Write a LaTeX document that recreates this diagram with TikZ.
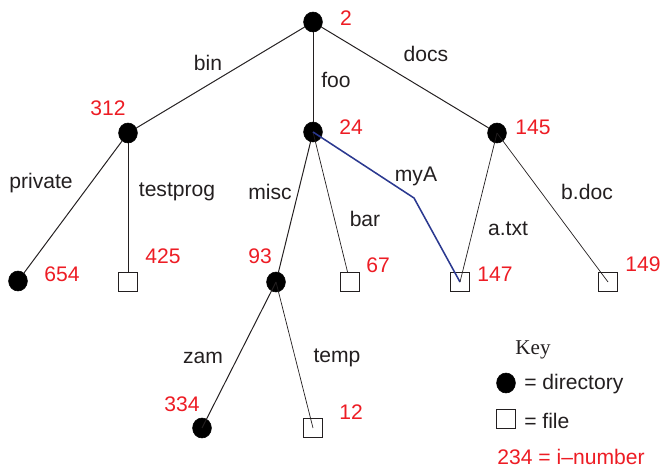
\documentclass[tikz,border=0pt]{standalone}
\usepackage{fontspec}
\setmainfont{Liberation Serif}
\setsansfont{Liberation Sans}
\usepackage{tikz}
\usetikzlibrary{shapes.geometric, positioning}

\definecolor{inumred}{RGB}{237,28,36}
\definecolor{linkblue}{RGB}{43,57,144}
\definecolor{inkblack}{RGB}{35,31,32}

\tikzset{
    txt/.style={font=\sffamily\fontsize{15}{17}\selectfont, text=inkblack, inner sep=0pt},
    inum/.style={txt, text=inumred},
    dirnode/.style={ellipse, fill=black, draw=black, minimum width=0.47cm, minimum height=0.5cm, inner sep=0pt},
    filenode/.style={rectangle, draw=inkblack, line width=0.5pt, minimum size=0.46cm, inner sep=0pt},
    tree/.style={draw=inkblack, line width=0.7pt},
    thin tree/.style={draw=inkblack, line width=0.5pt},
    hardlink/.style={draw=linkblue, line width=1.1pt}
}

\begin{document}
\begin{tikzpicture}[x=0.025cm, y=-0.025cm]
    \useasboundingbox (0, 0) rectangle (662, 468);

    % directories and files
    \node[dirnode] (root) at (313, 22) {};
    \node[dirnode] (bin) at (128, 133) {};
    \node[dirnode] (foo) at (313, 132) {};
    \node[dirnode] (docs) at (497, 133) {};
    \node[dirnode] (private) at (18, 281) {};
    \node[filenode] (testprog) at (128, 282) {};
    \node[dirnode] (misc) at (276, 282) {};
    \node[filenode] (bar) at (350, 282) {};
    \node[filenode] (atxt) at (460, 282) {};
    \node[filenode] (bdoc) at (608, 282) {};
    \node[dirnode] (zam) at (202, 428) {};
    \node[filenode] (temp) at (313, 428) {};
    \coordinate (bend) at (414, 198);

    % links
    \draw[tree] (root) -- (bin);
    \draw[tree] (root) -- (foo);
    \draw[tree] (root) -- (docs);
    \draw[tree] (bin) -- (private);
    \draw[thin tree] (bin) -- (testprog);
    \draw[tree] (foo) -- (misc);
    \draw[thin tree] (foo.center) -- (bar);
    \draw[hardlink] (foo.center) -- (bend) -- (atxt.center);
    \draw[thin tree] (docs.center) -- (atxt.center);
    \draw[thin tree] (docs.center) -- (bdoc.center);
    \draw[tree] (misc.center) -- (zam.center);
    \draw[thin tree] (misc.center) -- (temp.center);

    % names
    \node[txt] (lbin) at (208, 63) {bin};
    \node[txt] (lfoo) at (336, 80) {foo};
    \node[txt] (ldocs) at (426, 54) {docs};
    \node[txt] (lprivate) at (41, 183) {private};
    \node[txt] (ltestprog) at (177, 192) {testprog};
    \node[txt] (lmisc) at (270, 192) {misc};
    \node[txt] (lmyA) at (416, 176) {myA};
    \node[txt] (lbar) at (365, 219) {bar};
    \node[txt] (latxt) at (508, 229) {a.txt};
    \node[txt] (lbdoc) at (587, 192) {b.doc};
    \node[txt] (lzam) at (203, 358) {zam};
    \node[txt] (ltemp) at (337, 358) {temp};

    % i-numbers
    \node[inum] (iroot) at (346, 18) {2};
    \node[inum] (ibin) at (108, 108) {312};
    \node[inum] (ifoo) at (351, 127) {24};
    \node[inum] (idocs) at (533, 127) {145};
    \node[inum] (iprivate) at (62, 274) {654};
    \node[inum] (itestprog) at (163, 256) {425};
    \node[inum] (imisc) at (260, 256) {93};
    \node[inum] (ibar) at (378, 265) {67};
    \node[inum] (iatxt) at (495, 274) {147};
    \node[inum] (ibdoc) at (643, 264) {149};
    \node[inum] (izam) at (182, 404) {334};
    \node[inum] (itemp) at (351, 412) {12};

    % key
    \node[txt, font=\rmfamily\fontsize{15}{17}\selectfont] (key) at (533, 350) {Key};
    \node[dirnode] (keydir) at (506, 383) {};
    \node[txt, anchor=west] (keydirtxt) at (524, 384) {= directory};
    \node[filenode] (keyfile) at (506, 419) {};
    \node[txt, anchor=west] (keyfiletxt) at (524, 421) {= file};
    \node[inum] (keyinum) at (571, 457) {234 = i--number};
\end{tikzpicture}
\end{document}
